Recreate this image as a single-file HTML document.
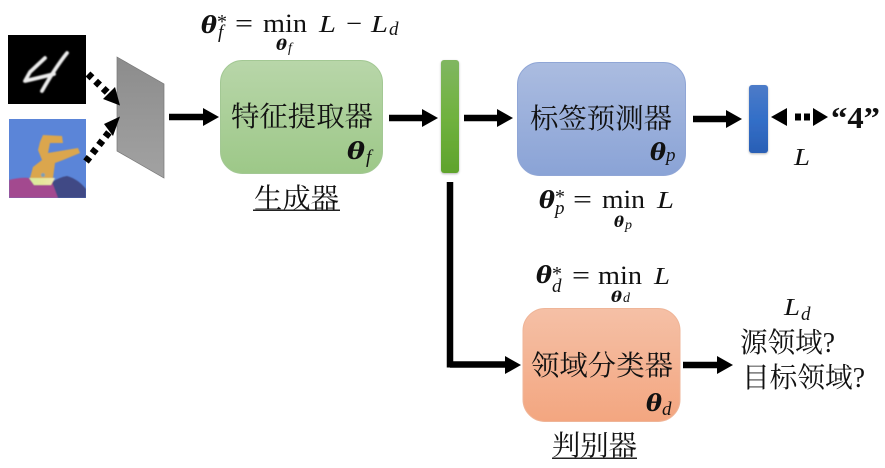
<!DOCTYPE html>
<html><head><meta charset="utf-8"><style>
html,body{margin:0;padding:0;background:#fff;width:885px;height:468px;overflow:hidden}
svg{display:block}
text{fill:#111}
.c{font-family:"Liberation Serif","Noto Serif CJK SC",serif;font-size:28px}
.m{font-family:"Liberation Serif",serif;font-size:24px;font-style:italic}
.r{font-family:"Liberation Serif",serif;font-size:26px}
.b{font-family:"DejaVu Serif","Liberation Serif",serif;font-weight:bold;font-style:italic;font-size:23px}
.bs{font-family:"DejaVu Serif","Liberation Serif",serif;font-weight:bold;font-style:italic;font-size:15px}
.s{font-family:"Liberation Serif",serif;font-style:italic;font-size:19px}
.ss{font-family:"Liberation Serif",serif;font-style:italic;font-size:14px}
.st{font-family:"Liberation Serif",serif;font-size:20px}
</style></head><body>
<svg width="885" height="468" viewBox="0 0 885 468" xmlns="http://www.w3.org/2000/svg">
<defs>
<linearGradient id="g" x1="0" y1="0" x2="0" y2="1"><stop offset="0" stop-color="#b8d6a9"/><stop offset="1" stop-color="#9dc888"/></linearGradient>
<linearGradient id="bl" x1="0" y1="0" x2="0" y2="1"><stop offset="0" stop-color="#abbce0"/><stop offset="1" stop-color="#8aa3d6"/></linearGradient>
<linearGradient id="o" x1="0" y1="0" x2="0" y2="1"><stop offset="0" stop-color="#f5c0a6"/><stop offset="1" stop-color="#f3a680"/></linearGradient>
<linearGradient id="gb" x1="0" y1="0" x2="0" y2="1"><stop offset="0" stop-color="#80b661"/><stop offset=".5" stop-color="#70b23f"/><stop offset="1" stop-color="#5fa32c"/></linearGradient>
<linearGradient id="bb" x1="0" y1="0" x2="0" y2="1"><stop offset="0" stop-color="#4d7bc8"/><stop offset=".5" stop-color="#336fc8"/><stop offset="1" stop-color="#2a5fb5"/></linearGradient>
<linearGradient id="tr" x1="0" y1="0" x2="0" y2="1"><stop offset="0" stop-color="#8c8c8c"/><stop offset="1" stop-color="#a2a2a2"/></linearGradient>
<linearGradient id="gnd" x1="0" y1="0" x2="1" y2="0"><stop offset="0" stop-color="#d6e9a0"/><stop offset=".5" stop-color="#e6e69a"/><stop offset="1" stop-color="#efe6b0"/></linearGradient>
<filter id="bl1" x="-20%" y="-20%" width="140%" height="140%"><feGaussianBlur stdDeviation="0.7"/></filter>
<filter id="bl2" x="-20%" y="-20%" width="140%" height="140%"><feGaussianBlur stdDeviation="0.5"/></filter>
<filter id="sh" x="-40%" y="-10%" width="180%" height="120%"><feDropShadow dx="0" dy="1" stdDeviation="1" flood-color="#000" flood-opacity=".3"/></filter>
<clipPath id="ci"><rect x="9" y="119" width="77" height="79"/></clipPath>
</defs>

<!-- input images -->
<rect x="8" y="35" width="78" height="69" fill="#000"/>
<g fill="none" stroke="#eee" stroke-width="3.800" stroke-linecap="round" stroke-linejoin="round" filter="url(#bl1)">
<path d="M45 58 L30 72 L25 81 Q38 78 54 74"/><path d="M67 53 Q55 68 42 91"/>
</g>
<g clip-path="url(#ci)">
<rect x="9" y="119" width="77" height="79" fill="#5b85d8"/>
<g filter="url(#bl2)">
<path d="M9 180 Q20 177 30 178 L55 181 L62 198 H9Z" fill="#a3488f"/>
<path d="M52 182 Q60 177 67 176 Q78 179 86 189 V198 H58Z" fill="#3f4a85"/>
<path d="M40 142 L43 135 L62 136 L63 143 L50 143 L48 153 L78 148 L80 153 L63 160 L55 163 L53 178 L30 178 L33 167 L42 160 L38 150Z" fill="#dba64d"/>
<circle cx="43" cy="175" r="2" fill="#7fa0b0"/>
<path d="M29 178 H55 L51 185 H34Z" fill="url(#gnd)"/>
</g>
</g>
<!-- trapezoid -->
<polygon points="117,57 164,84 164,178 117,151" fill="url(#tr)" stroke="#777" stroke-width=".7"/>

<!-- dotted arrows -->
<g stroke="#000" stroke-width="7" fill="none">
<path d="M88 74 L109 94" stroke-dasharray="5.500 5"/>
<path d="M86 161.500 L110 131" stroke-dasharray="5.500 5"/>
<path d="M795 117 H801 M804 117 H810"/>
</g>
<polygon points="120,105.500 115,87 103,99" fill="#000"/>
<polygon points="120,116.500 104,124 113,136" fill="#000"/>
<polygon points="771,117 787,108 787,126" fill="#000"/>
<polygon points="828,117 813,108 813,126" fill="#000"/>

<!-- boxes -->
<rect x="220.500" y="60.500" width="162" height="113" rx="22" fill="url(#g)" stroke="#a3c894"/>
<rect x="517.500" y="62.500" width="168" height="113" rx="22" fill="url(#bl)" stroke="#90a6d6"/>
<rect x="523" y="308.500" width="157" height="113" rx="22" fill="url(#o)" stroke="#efb598"/>
<rect x="441" y="60" width="18" height="113" rx="3" fill="url(#gb)" filter="url(#sh)"/>
<rect x="749" y="85" width="19" height="68" rx="3" fill="url(#bb)" filter="url(#sh)"/>

<!-- solid arrows -->
<g stroke="#000" stroke-width="6.500" fill="none">
<path d="M169 117 H205"/><path d="M389 118 H425"/><path d="M464 118 H500"/><path d="M693 119 H729"/>
<path d="M683 365 H720"/><path d="M450 182 V367.500"/><path d="M450 364.500 H508"/>
</g>
<g fill="#000">
<polygon points="219,117 203,108 203,126"/><polygon points="438,118 422,109 422,127"/>
<polygon points="513,118 497,109 497,127"/><polygon points="742,119 726,110 726,128"/>
<polygon points="733,365 717,356 717,374"/><polygon points="521,365 505,356 505,374"/>
</g>

<!-- CJK labels -->
<text class="c" x="231" y="126" textLength="142" lengthAdjust="spacingAndGlyphs">特征提取器</text>
<text class="c" x="530" y="128" textLength="142" lengthAdjust="spacingAndGlyphs">标签预测器</text>
<text class="c" x="531" y="375" textLength="142" lengthAdjust="spacingAndGlyphs">领域分类器</text>
<text class="c" x="254" y="208" textLength="85" lengthAdjust="spacingAndGlyphs">生成器</text>
<rect x="253" y="209.500" width="87" height="1.500" fill="#222"/>
<text class="c" x="552" y="455" textLength="85" lengthAdjust="spacingAndGlyphs">判别器</text>
<rect x="552" y="457.500" width="85" height="1.500" fill="#222"/>
<text class="c" x="740" y="352" textLength="95" lengthAdjust="spacingAndGlyphs">源领域?</text>
<text class="c" x="742" y="387" textLength="123" lengthAdjust="spacingAndGlyphs">目标领域?</text>

<!-- box symbols -->
<text class="b" x="347" y="159" textLength="18" lengthAdjust="spacingAndGlyphs">θ</text><text class="s" x="366" y="163">f</text>
<text class="b" x="650" y="160" textLength="16" lengthAdjust="spacingAndGlyphs">θ</text><text class="s" x="666" y="161">p</text>
<text class="b" x="646" y="411" textLength="16" lengthAdjust="spacingAndGlyphs">θ</text><text class="s" x="662" y="415">d</text>

<!-- formula top -->
<text class="b" x="201" y="33" textLength="16" lengthAdjust="spacingAndGlyphs">θ</text><text class="st" x="217" y="28">*</text><text class="s" x="218" y="38">f</text>
<text class="r" x="235" y="32" textLength="18" lengthAdjust="spacingAndGlyphs">=</text><text class="r" x="263" y="32" textLength="44" lengthAdjust="spacingAndGlyphs">min</text>
<text class="bs" x="276" y="50" textLength="11" lengthAdjust="spacingAndGlyphs">θ</text><text class="ss" x="288" y="52">f</text>
<text class="m" x="319" y="32" textLength="17" lengthAdjust="spacingAndGlyphs">L</text><text class="r" x="346" y="32" textLength="16" lengthAdjust="spacingAndGlyphs">−</text><text class="m" x="371" y="32" textLength="17" lengthAdjust="spacingAndGlyphs">L</text><text class="s" x="389" y="35">d</text>

<!-- formula p -->
<text class="b" x="539" y="208" textLength="16" lengthAdjust="spacingAndGlyphs">θ</text><text class="st" x="555" y="203">*</text><text class="s" x="555" y="214">p</text>
<text class="r" x="573" y="208" textLength="19" lengthAdjust="spacingAndGlyphs">=</text><text class="r" x="602" y="208" textLength="43" lengthAdjust="spacingAndGlyphs">min</text>
<text class="bs" x="614" y="227" textLength="10" lengthAdjust="spacingAndGlyphs">θ</text><text class="ss" x="625" y="229">p</text>
<text class="m" x="657" y="208" textLength="17" lengthAdjust="spacingAndGlyphs">L</text>

<!-- formula d -->
<text class="b" x="536" y="283" textLength="16" lengthAdjust="spacingAndGlyphs">θ</text><text class="st" x="552" y="280">*</text><text class="s" x="552" y="292">d</text>
<text class="r" x="572" y="284" textLength="18" lengthAdjust="spacingAndGlyphs">=</text><text class="r" x="598" y="284" textLength="44" lengthAdjust="spacingAndGlyphs">min</text>
<text class="bs" x="611" y="302" textLength="11" lengthAdjust="spacingAndGlyphs">θ</text><text class="ss" x="623" y="302">d</text>
<text class="m" x="654" y="284" textLength="16" lengthAdjust="spacingAndGlyphs">L</text>

<!-- right labels -->
<text class="m" x="794" y="165" textLength="16" lengthAdjust="spacingAndGlyphs">L</text>
<text class="m" x="784" y="315" textLength="16" lengthAdjust="spacingAndGlyphs">L</text><text class="s" x="801" y="320">d</text>
<text x="831" y="128" font-family="Liberation Serif,serif" font-weight="bold" font-size="31" textLength="49" lengthAdjust="spacingAndGlyphs">“4”</text>
</svg>
</body></html>
